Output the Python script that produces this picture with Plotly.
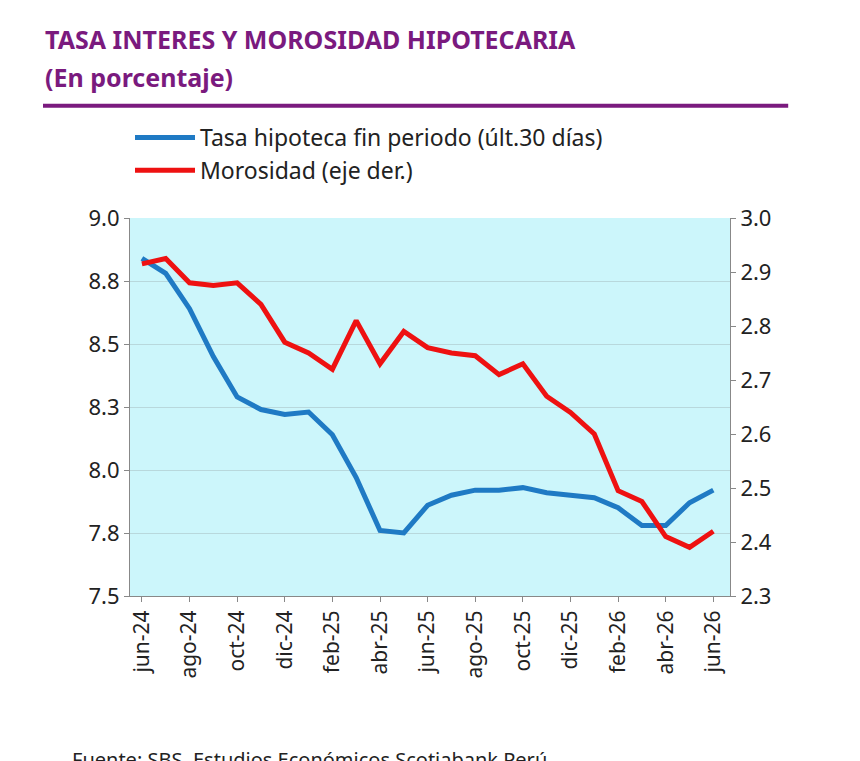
import plotly.graph_objects as go

months = ["jun-24","jul-24","ago-24","sep-24","oct-24","nov-24","dic-24","ene-25","feb-25","mar-25",
          "abr-25","may-25","jun-25","jul-25","ago-25","sep-25","oct-25","nov-25","dic-25","ene-26",
          "feb-26","mar-26","abr-26","may-26","jun-26"]
tasa = [8.84,8.78,8.64,8.45,8.29,8.24,8.22,8.23,8.14,7.97,7.76,7.75,7.86,7.90,7.92,7.92,7.93,7.91,
        7.90,7.89,7.85,7.78,7.78,7.87,7.92]
morosidad = [2.915,2.925,2.88,2.875,2.88,2.84,2.77,2.75,2.72,2.81,2.73,2.79,2.76,2.75,2.745,2.71,
             2.73,2.67,2.64,2.60,2.495,2.475,2.41,2.39,2.42]
left_ticks = [7.5,7.75,8.0,8.25,8.5,8.75,9.0]
left_labels = ["7.5","7.8","8.0","8.3","8.5","8.8","9.0"]
right_ticks = [2.3,2.4,2.5,2.6,2.7,2.8,2.9,3.0]

purple = "#7a1a7e"
x = list(range(len(months)))

fig = go.Figure()
fig.add_trace(go.Scatter(x=x, y=tasa, mode="lines", name="Tasa hipoteca fin periodo (últ.30 días)",
                         line=dict(color="#1f7ac4", width=5)))
fig.add_trace(go.Scatter(x=x, y=morosidad, mode="lines", name="Morosidad (eje der.)", yaxis="y2",
                         line=dict(color="#ee1111", width=5)))

fig.update_layout(
    width=860, height=761, paper_bgcolor="white", plot_bgcolor="#ccf6fb",
    font=dict(family="Noto Sans", color="#222", size=22),
    margin=dict(l=122, r=138, t=210, b=173, autoexpand=False),
    showlegend=True,
    legend=dict(x=0.0, y=1.27, xanchor="left", yanchor="top", bgcolor="rgba(0,0,0,0)",
                font=dict(size=23), itemwidth=60, tracegroupgap=0),
    xaxis=dict(tickvals=x[::2], ticktext=months[::2], tickangle=-90, range=[-0.5, 24.7],
               showgrid=False, zeroline=False, showline=True, linecolor="#888", ticks="outside",
               ticklen=5, tickcolor="#888", tickfont=dict(size=21)),
    yaxis=dict(range=[7.5, 9.0], tickvals=left_ticks, ticktext=left_labels, showgrid=True,
               gridcolor="#b8d8dc", gridwidth=1, showline=True, linecolor="#888", ticks="outside",
               tickcolor="#888", tickfont=dict(size=22), zeroline=False),
    yaxis2=dict(range=[2.3, 3.0], tickvals=right_ticks, tickformat=".1f", overlaying="y", side="right",
                showgrid=False, showline=True, linecolor="#888", ticks="outside", tickcolor="#888",
                tickfont=dict(size=22), zeroline=False),
)

fig.add_annotation(text="<b>TASA INTERES Y MOROSIDAD HIPOTECARIA</b>", xref="paper", yref="paper",
                   x=-0.145, y=1.473, xanchor="left", yanchor="middle", showarrow=False,
                   font=dict(size=25, color=purple))
fig.add_annotation(text="<b>(En porcentaje)</b>", xref="paper", yref="paper",
                   x=-0.145, y=1.373, xanchor="left", yanchor="middle", showarrow=False,
                   font=dict(size=25, color=purple))
fig.add_shape(type="line", xref="paper", yref="paper", x0=-0.145, x1=1.097, y0=1.297, y1=1.297,
              line=dict(color=purple, width=4))
fig.add_annotation(text="Fuente: SBS, Estudios Económicos Scotiabank Perú", xref="paper", yref="paper",
                   x=-0.1, y=-0.432, xanchor="left", yanchor="middle", showarrow=False,
                   font=dict(size=20, color="#222"))

fig.write_html("out.html")
